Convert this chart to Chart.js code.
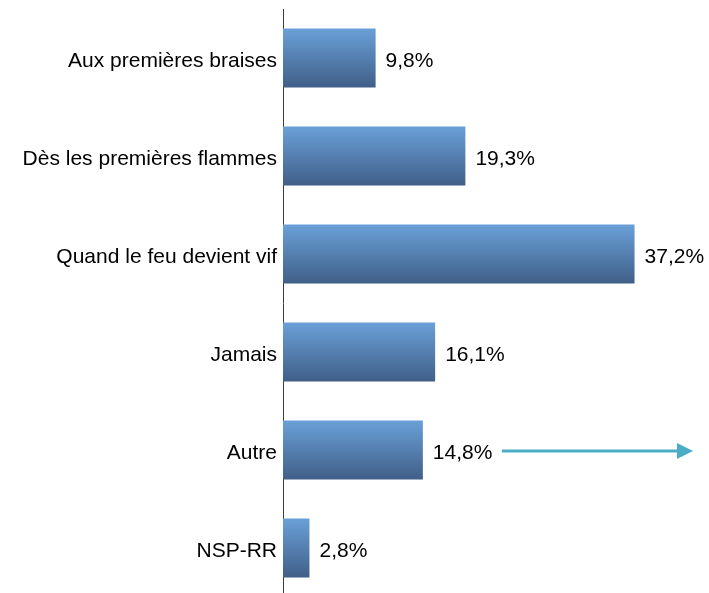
<!DOCTYPE html>
<html>
<head>
<meta charset="utf-8">
<script src="https://cdn.jsdelivr.net/npm/chart.js@4/dist/chart.umd.min.js"></script>
<style>
  html, body { margin: 0; padding: 0; background: #ffffff; overflow: hidden; }
  #wrap { width: 709px; height: 600px; position: relative; }
</style>
</head>
<body>
<div id="wrap"><canvas id="chart"></canvas></div>
<script>
// Réponses (catégories) et pourcentages
const categories = [
  'Aux premières braises',
  'Dès les premières flammes',
  'Quand le feu devient vif',
  'Jamais',
  'Autre',
  'NSP-RR'
];
const percentages = [9.8, 19.3, 37.2, 16.1, 14.8, 2.8];

const FONT = '"Liberation Sans", Arial, sans-serif';
const fmt = v => v.toFixed(1).replace('.', ',') + '%';

// vertical gradient for each bar (light blue on top, darker at the bottom)
function barGradient(context) {
  const chart = context.chart;
  const yScale = chart.scales.y;
  if (!chart.chartArea || !yScale) return '#5a86bb';
  const center = yScale.getPixelForValue(context.dataIndex);
  const half = yScale.height / categories.length * 0.6 / 2;
  const g = chart.ctx.createLinearGradient(0, center - half, 0, center + half);
  g.addColorStop(0, '#6aa0d8');
  g.addColorStop(1, '#405f88');
  return g;
}

// value labels at the end of each bar + the arrow next to "Autre"
const extrasPlugin = {
  id: 'extras',
  afterDatasetsDraw(chart) {
    const ctx = chart.ctx;
    const meta = chart.getDatasetMeta(0);
    ctx.save();
    ctx.font = '21px ' + FONT;
    ctx.fillStyle = '#000000';
    ctx.textBaseline = 'middle';
    ctx.textAlign = 'left';
    meta.data.forEach((bar, i) => {
      ctx.fillText(fmt(percentages[i]), bar.x + 10, bar.y + 3);
    });

    // arrow pointing right from the "Autre" label
    const autre = meta.data[categories.indexOf('Autre')];
    const y = autre.y + 1;
    const x0 = autre.x + 79;
    const x1 = chart.width - 16;
    ctx.strokeStyle = '#4bacc6';
    ctx.fillStyle = '#4bacc6';
    ctx.lineWidth = 3;
    ctx.beginPath();
    ctx.moveTo(x0, y);
    ctx.lineTo(x1 - 12, y);
    ctx.stroke();
    ctx.beginPath();
    ctx.moveTo(x1, y);
    ctx.lineTo(x1 - 16, y - 8);
    ctx.lineTo(x1 - 16, y + 8);
    ctx.closePath();
    ctx.fill();
    ctx.restore();
  }
};

new Chart(document.getElementById('chart'), {
  type: 'bar',
  data: {
    labels: categories,
    datasets: [{
      data: percentages,
      backgroundColor: barGradient,
      borderWidth: 0,
      categoryPercentage: 1.0,
      barPercentage: 0.6
    }]
  },
  options: {
    indexAxis: 'y',
    responsive: true,
    maintainAspectRatio: false,
    animation: false,
    layout: { padding: { top: 9, bottom: 3, left: 0, right: 48 } },
    plugins: {
      legend: { display: false },
      tooltip: { enabled: false }
    },
    scales: {
      x: {
        display: false,
        min: 0,
        max: 40
      },
      y: {
        afterFit(scale) {
          scale.width = 283;
          // no extra room for the first/last label, the axis runs edge to edge
          scale.paddingTop = 0;
          scale.paddingBottom = 0;
        },
        grid: { display: false, drawTicks: false },
        border: { display: true, color: '#3c3c3c', width: 1 },
        ticks: {
          color: '#000000',
          padding: 6,
          labelOffset: 3,
          font: { family: FONT, size: 21 }
        }
      }
    }
  },
  plugins: [extrasPlugin]
});
</script>
</body>
</html>
